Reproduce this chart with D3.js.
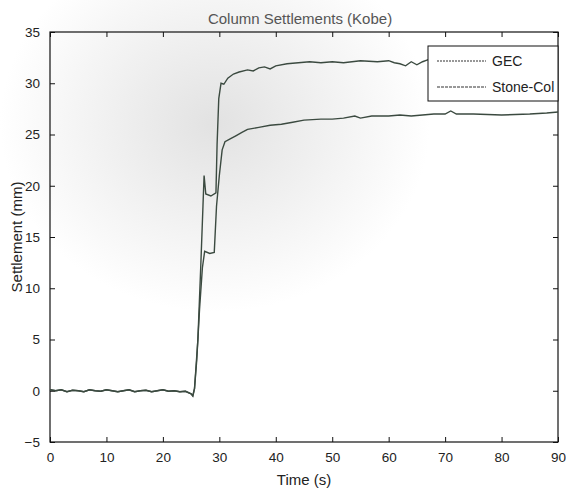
<!DOCTYPE html>
<html lang="en">
<head>
  <meta charset="UTF-8">
  <title>Column Settlements (Kobe)</title>
  <script src="https://d3js.org/d3.v7.min.js"></script>
  <style>
    body { margin: 0; background: #fff; }
    svg { font-family: "Liberation Sans", Arial, sans-serif; }
    .axis path, .axis line { stroke: #111; }
    .axis text { font-size: 13.5px; fill: #222; }
  </style>
</head>
<body>
  <div id="chart"></div>
  <script>
    // values
    var xTicks = [0, 10, 20, 30, 40, 50, 60, 70, 80, 90];
    var yTicks = [-5, 0, 5, 10, 15, 20, 25, 30, 35];

    var baseTime = [0, 1, 2, 3, 4, 5, 6, 7, 8, 9, 10, 11, 12, 13, 14, 15, 16, 17, 18, 19, 20, 21, 22, 23, 24, 25];
    var baseVals = [0.1, 0, 0.1, -0.1, 0.05, 0, -0.1, 0.1, 0, -0.05, 0.1, 0, -0.1, 0, 0.1, -0.1, 0, 0.05, -0.1, 0, 0.1, -0.05, 0, -0.1, -0.05, -0.3];

    var stoneTime = [25.3, 25.6, 26.2, 26.7, 27.1, 27.3, 27.6, 28.5, 29.4, 29.6, 29.9, 30.3, 30.8, 31.5, 32.5, 33.5, 35, 36, 37, 38, 39, 40, 42, 44, 46, 48, 50, 52, 55, 58, 60, 61, 62, 63, 64, 65, 66, 67, 68, 70, 75, 80, 85, 90];
    var stoneVals = [-0.5, 0.2, 5, 12, 18, 21, 19.2, 19, 19.3, 24, 28.5, 30, 29.9, 30.5, 30.9, 31.1, 31.3, 31.2, 31.5, 31.6, 31.4, 31.7, 31.9, 32, 32.1, 32, 32.1, 32, 32.2, 32.1, 32.2, 32, 31.9, 31.7, 32.1, 31.8, 32.1, 32.3, 32.2, 32.3, 32.2, 32.3, 32.2, 32.3];

    var gecTime = [25.3, 25.6, 26, 26.5, 27, 27.4, 28.3, 29.1, 29.5, 30, 30.5, 31, 32, 33, 34, 35, 37, 39, 41, 43, 45, 48, 50, 52, 54, 55, 57, 60, 62, 64, 66, 68, 70, 71, 72, 75, 80, 85, 88, 90];
    var gecVals = [-0.5, 0.2, 3, 8, 12, 13.6, 13.4, 13.5, 18, 21, 23.5, 24.3, 24.6, 24.9, 25.2, 25.5, 25.7, 25.9, 26, 26.2, 26.4, 26.5, 26.5, 26.6, 26.8, 26.6, 26.8, 26.8, 26.9, 26.8, 26.9, 27, 27, 27.3, 27, 27, 26.9, 27, 27.1, 27.2];

    var seriesNames = ["GEC", "Stone-Col"];

    function build(t, v) {
      var pts = baseTime.map(function (d, i) { return [d, baseVals[i]]; });
      return pts.concat(t.map(function (d, i) { return [d, v[i]]; }));
    }
    var gec = build(gecTime, gecVals);
    var stone = build(stoneTime, stoneVals);

    var W = 566, H = 495;
    var margin = { top: 32, right: 8, bottom: 53, left: 50 };
    var width = W - margin.left - margin.right,
        height = H - margin.top - margin.bottom;

    var svg = d3.select("#chart").append("svg")
      .attr("width", W).attr("height", H);

    // faint scan shading
    var defs = svg.append("defs");
    var grad = defs.append("radialGradient").attr("id", "scan")
      .attr("cx", "38%").attr("cy", "25%").attr("r", "38%");
    grad.append("stop").attr("offset", "0%").attr("stop-color", "#e2e2e2");
    grad.append("stop").attr("offset", "100%").attr("stop-color", "#ffffff");
    svg.append("rect").attr("width", W).attr("height", H).attr("fill", "url(#scan)");

    var g = svg.append("g")
      .attr("transform", "translate(" + margin.left + "," + margin.top + ")");

    var x = d3.scaleLinear().domain([0, 90]).range([0, width]);
    var y = d3.scaleLinear().domain([-5, 35]).range([height, 0]);

    // box
    g.append("rect").attr("width", width).attr("height", height)
      .attr("fill", "none").attr("stroke", "#111").attr("stroke-width", 1.2);

    g.append("g").attr("class", "axis")
      .attr("transform", "translate(0," + height + ")")
      .call(d3.axisBottom(x).tickValues(xTicks).tickSizeInner(-5).tickSizeOuter(0).tickPadding(10))
      .call(function (s) { s.select(".domain").remove(); });
    g.append("g").attr("class", "axis")
      .call(d3.axisLeft(y).tickValues(yTicks).tickSizeInner(-5).tickSizeOuter(0).tickPadding(10))
      .call(function (s) { s.select(".domain").remove(); });
    g.append("g").attr("class", "axis")
      .call(d3.axisTop(x).tickValues(xTicks).tickSizeInner(-5).tickSizeOuter(0).tickFormat(""))
      .call(function (s) { s.select(".domain").remove(); });
    g.append("g").attr("class", "axis")
      .attr("transform", "translate(" + width + ",0)")
      .call(d3.axisRight(y).tickValues(yTicks).tickSizeInner(-5).tickSizeOuter(0).tickFormat(""))
      .call(function (s) { s.select(".domain").remove(); });

    var line = d3.line().x(function (d) { return x(d[0]); }).y(function (d) { return y(d[1]); });

    g.append("path").datum(stone).attr("d", line)
      .attr("fill", "none").attr("stroke", "#3b4a40").attr("stroke-width", 1.4);
    g.append("path").datum(gec).attr("d", line)
      .attr("fill", "none").attr("stroke", "#3b4a40").attr("stroke-width", 1.4);

    // legend
    var leg = g.append("g").attr("transform", "translate(" + (428 - margin.left) + "," + (46 - margin.top) + ")");
    leg.append("rect").attr("width", 130).attr("height", 55)
      .attr("fill", "#fff").attr("stroke", "#111").attr("stroke-width", 1);
    seriesNames.forEach(function (n, i) {
      var yy = 15 + i * 26;
      leg.append("line").attr("x1", 9).attr("x2", 58).attr("y1", yy).attr("y2", yy)
        .attr("stroke", "#333").attr("stroke-width", 1.2)
        .attr("stroke-dasharray", i === 0 ? "2,1" : "3,1");
      leg.append("text").attr("x", 64).attr("y", yy + 5)
        .attr("font-size", 14).attr("fill", "#222").text(n);
    });

    // titles
    svg.append("text").attr("x", 300).attr("y", 24).attr("text-anchor", "middle")
      .attr("font-size", 15).attr("fill", "#555").text("Column Settlements (Kobe)");
    svg.append("text").attr("x", margin.left + width / 2).attr("y", 485).attr("text-anchor", "middle")
      .attr("font-size", 15).attr("fill", "#222").text("Time (s)");
    svg.append("text").attr("transform", "translate(22," + (margin.top + height / 2) + ") rotate(-90)")
      .attr("text-anchor", "middle").attr("font-size", 15).attr("fill", "#222").text("Settlement (mm)");
  </script>
</body>
</html>
